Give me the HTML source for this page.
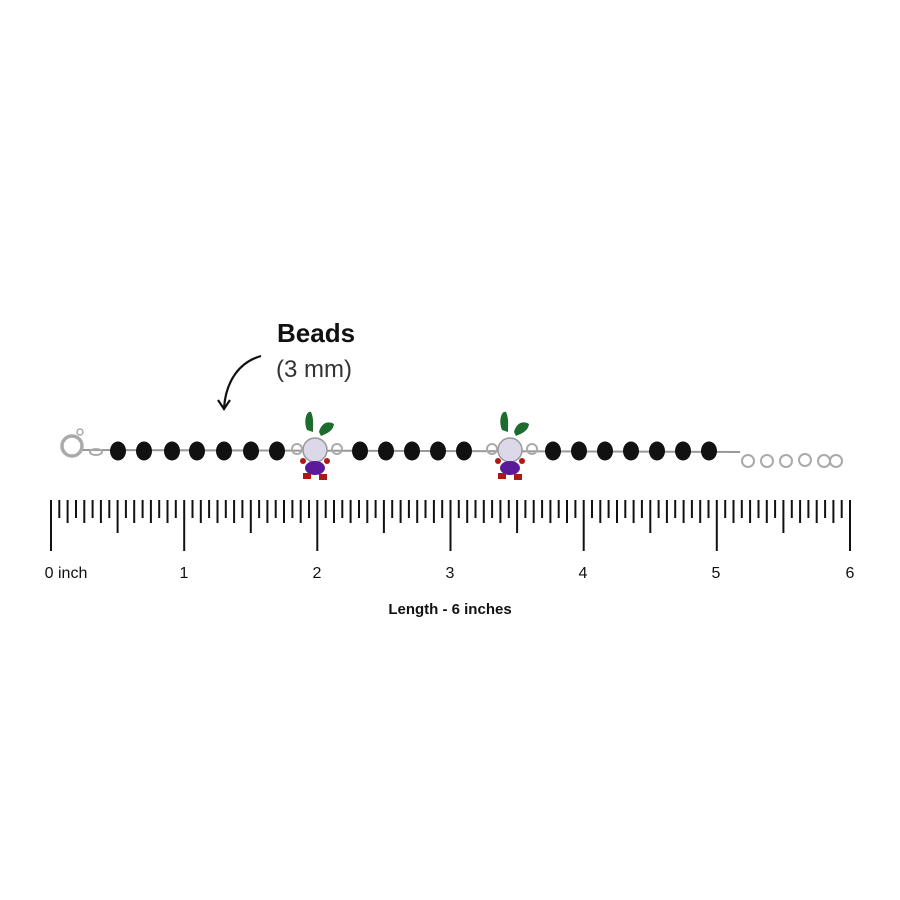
<!DOCTYPE html>
<html><head><meta charset="utf-8"><style>
html,body{margin:0;padding:0;background:#fff;}
svg{display:block}
</style></head><body>
<svg id="s" width="900" height="900" viewBox="0 0 900 900" xmlns="http://www.w3.org/2000/svg">
<rect width="900" height="900" fill="#fff"/>
<text x="277" y="342" font-family="Liberation Sans, sans-serif" font-weight="bold" font-size="26" fill="#111">Beads</text>
<text x="276" y="377" font-family="Liberation Sans, sans-serif" font-size="24" fill="#333">(3 mm)</text>
<path d="M261 356 C240 362 226 380 224 408" fill="none" stroke="#111" stroke-width="2.2"/>
<path d="M218 400 L224 409 L230 400" fill="none" stroke="#111" stroke-width="2.2"/>
<line x1="82" y1="450" x2="740" y2="452" stroke="#999" stroke-width="2"/>
<circle cx="72" cy="446" r="10" fill="none" stroke="#aaa" stroke-width="3.5"/>
<circle cx="80" cy="432" r="3" fill="none" stroke="#aaa" stroke-width="1.5"/>
<ellipse cx="96" cy="452" rx="6" ry="3" fill="none" stroke="#aaa" stroke-width="2"/>
<g id="beads" fill="#111"></g>
<g fill="none" stroke="#aaa" stroke-width="2">
<circle cx="748" cy="461" r="6"/><circle cx="767" cy="461" r="6"/><circle cx="786" cy="461" r="6"/><circle cx="805" cy="460" r="6"/><circle cx="824" cy="461" r="6"/><circle cx="836" cy="461" r="6"/>
</g>
<g id="charms"></g>
<g id="ticks" stroke="#111" stroke-width="2"></g>
<g font-family="Liberation Sans, sans-serif" font-size="16" fill="#111" text-anchor="middle">
<text x="66" y="578">0 inch</text><text x="184" y="578">1</text><text x="317" y="578">2</text><text x="450" y="578">3</text><text x="583" y="578">4</text><text x="716" y="578">5</text><text x="850" y="578">6</text>
</g>
<text x="450" y="614" text-anchor="middle" font-family="Liberation Sans, sans-serif" font-weight="bold" font-size="15" fill="#111">Length - 6 inches</text>
</svg>
<script>
var NS="http://www.w3.org/2000/svg";
function el(t,a,p){var e=document.createElementNS(NS,t);for(var k in a)e.setAttribute(k,a[k]);document.getElementById(p).appendChild(e);}
var bx=[118,144,172,197,224,251,277,360,386,412,438,464,553,579,605,631,657,683,709];
bx.forEach(function(x){el("ellipse",{cx:x,cy:451,rx:8,ry:9.5},"beads");});
[317,512].forEach(function(x){
 el("path",{d:"M"+(x-10)+" 430 C"+(x-14)+" 420 "+(x-10)+" 410 "+(x-6)+" 412 C"+(x-3)+" 418 "+(x-4)+" 426 "+(x-4)+" 432 Z",fill:"#1e6b2e"},"charms");
 el("path",{d:"M"+(x+2)+" 432 C"+(x+4)+" 424 "+(x+10)+" 420 "+(x+17)+" 424 C"+(x+16)+" 432 "+(x+8)+" 434 "+(x+4)+" 436 Z",fill:"#1e6b2e"},"charms");
 el("circle",{cx:x-20,cy:449,r:5,fill:"none",stroke:"#aaa","stroke-width":2},"charms");
 el("circle",{cx:x+20,cy:449,r:5,fill:"none",stroke:"#aaa","stroke-width":2},"charms");
 el("circle",{cx:x-2,cy:450,r:12,fill:"#dcd8ea",stroke:"#999","stroke-width":1.5},"charms");
 el("ellipse",{cx:x-2,cy:468,rx:10,ry:7,fill:"#5a1a9a"},"charms");
 el("circle",{cx:x-14,cy:461,r:3,fill:"#b01818"},"charms");
 el("circle",{cx:x+10,cy:461,r:3,fill:"#b01818"},"charms");
 el("rect",{x:x-14,y:473,width:8,height:6,fill:"#b01818"},"charms");
 el("rect",{x:x+2,y:474,width:8,height:6,fill:"#b01818"},"charms");
});
var x0=51,d=133.17/16;
for(var i=0;i<=96;i++){var x=x0+i*d,y2;
 if(i%16==0)y2=551;else if(i%8==0)y2=533;else if(i%2==0)y2=523;else y2=518;
 el("line",{x1:x.toFixed(1),y1:500,x2:x.toFixed(1),y2:y2},"ticks");}
</script>
</body></html>
